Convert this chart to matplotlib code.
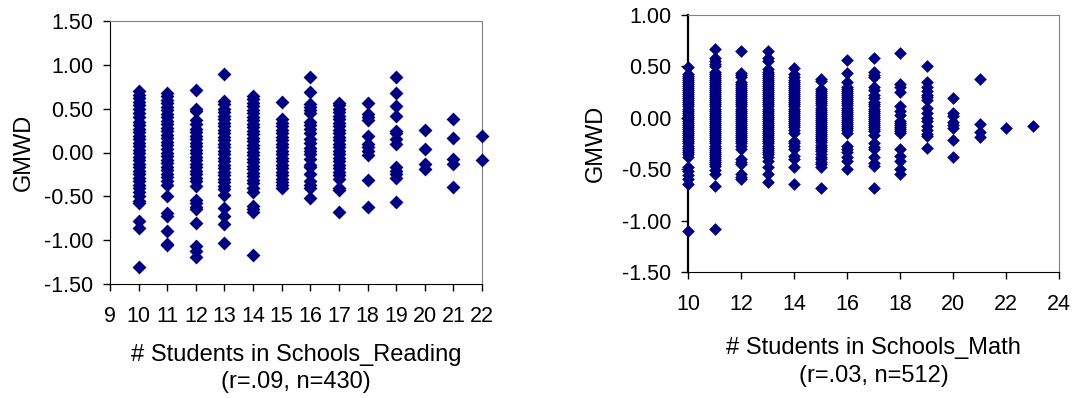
import matplotlib
matplotlib.use('Agg')
import matplotlib.pyplot as plt

plt.rcParams['font.family'] = ['Liberation Sans', 'DejaVu Sans']

# GMWD values per school size, reading
reading_10 = [0.70, 0.66, 0.62, 0.58, 0.54, 0.50, 0.45, 0.40, 0.35, 0.31, 0.27, 0.23, 0.19, 0.15,
              0.11, 0.07, 0.03, -0.01, -0.05, -0.09, -0.13, -0.17, -0.21, -0.25, -0.29, -0.33,
              -0.37, -0.41, -0.45, -0.50, -0.55, -0.58, -0.78, -0.86, -1.31]
reading_11 = [0.68, 0.64, 0.60, 0.56, 0.52, 0.48, 0.44, 0.40, 0.36, 0.32, 0.28, 0.24, 0.20, 0.16,
              0.12, 0.08, 0.04, 0.00, -0.04, -0.08, -0.12, -0.16, -0.20, -0.24, -0.28, -0.32,
              -0.37, -0.50, -0.69, -0.72, -0.90, -1.04, -1.06]
reading_12 = [0.71, 0.50, 0.47, 0.37, 0.33, 0.27, 0.23, 0.19, 0.15, 0.11, 0.07, 0.03, -0.01, -0.05,
              -0.09, -0.13, -0.17, -0.21, -0.25, -0.29, -0.33, -0.38, -0.54, -0.58, -0.62, -0.65,
              -0.80, -1.07, -1.12, -1.19]
reading_13 = [0.89, 0.59, 0.55, 0.50, 0.46, 0.42, 0.38, 0.34, 0.30, 0.26, 0.22, 0.18, 0.14, 0.10,
              0.06, 0.02, -0.02, -0.06, -0.10, -0.14, -0.18, -0.22, -0.26, -0.30, -0.34, -0.38,
              -0.42, -0.48, -0.63, -0.72, -0.82, -1.03]
reading_14 = [0.65, 0.61, 0.57, 0.53, 0.49, 0.45, 0.41, 0.37, 0.33, 0.29, 0.25, 0.21, 0.17, 0.13,
              0.09, 0.05, 0.01, -0.03, -0.07, -0.11, -0.15, -0.19, -0.23, -0.27, -0.31, -0.35,
              -0.40, -0.45, -0.61, -0.64, -0.68, -1.17]
reading_15 = [0.58, 0.38, 0.34, 0.30, 0.26, 0.22, 0.18, 0.14, 0.10, 0.06, 0.02, -0.02, -0.06, -0.10,
              -0.14, -0.18, -0.22, -0.26, -0.30, -0.34, -0.37, -0.40]
reading_16 = [0.86, 0.69, 0.55, 0.52, 0.49, 0.45, 0.35, 0.31, 0.27, 0.22, 0.15, 0.11, 0.05, 0.02,
              -0.02, -0.07, -0.14, -0.17, -0.24, -0.33, -0.37, -0.40, -0.52]
reading_17 = [0.57, 0.54, 0.50, 0.46, 0.42, 0.38, 0.34, 0.30, 0.26, 0.22, 0.18, 0.14, 0.10, 0.06,
              0.02, -0.02, -0.06, -0.10, -0.14, -0.18, -0.22, -0.26, -0.30, -0.40, -0.43, -0.68]
reading_18 = [0.56, 0.44, 0.40, 0.37, 0.19, 0.10, 0.06, 0.02, -0.03, -0.31, -0.62]
reading_19 = [0.86, 0.68, 0.53, 0.42, 0.25, 0.22, 0.15, 0.10, -0.17, -0.21, -0.25, -0.29, -0.57]
reading_20 = [0.26, 0.04, -0.13, -0.19]
reading_21 = [0.38, 0.16, -0.07, -0.13, -0.39]
reading_22 = [0.19, -0.09]

# GMWD values per school size, math
math_10 = [0.49, 0.43, 0.41, 0.39, 0.37, 0.35, 0.33, 0.31, 0.29, 0.27, 0.25, 0.23, 0.21, 0.19,
           0.17, 0.15, 0.13, 0.11, 0.09, 0.07, 0.05, 0.03, 0.01, -0.01, -0.03, -0.05, -0.07,
           -0.09, -0.11, -0.13, -0.15, -0.17, -0.19, -0.21, -0.23, -0.25, -0.27, -0.29, -0.31,
           -0.33, -0.35, -0.38, -0.48, -0.52, -0.56, -0.60, -0.64, -1.10]
math_11 = [0.67, 0.58, 0.55, 0.52, 0.50, 0.45, 0.43, 0.41, 0.39, 0.37, 0.35, 0.33, 0.31, 0.29,
           0.27, 0.25, 0.23, 0.21, 0.19, 0.17, 0.15, 0.13, 0.11, 0.09, 0.07, 0.05, 0.03, 0.01,
           -0.01, -0.03, -0.05, -0.07, -0.09, -0.11, -0.13, -0.15, -0.17, -0.19, -0.21, -0.23,
           -0.25, -0.27, -0.29, -0.31, -0.33, -0.35, -0.37, -0.39, -0.41, -0.43, -0.45, -0.47,
           -0.51, -0.55, -0.66, -1.08]
math_12 = [0.65, 0.44, 0.42, 0.40, 0.35, 0.33, 0.31, 0.29, 0.27, 0.25, 0.23, 0.21, 0.19, 0.17,
           0.15, 0.13, 0.11, 0.09, 0.07, 0.05, 0.03, 0.01, -0.01, -0.03, -0.05, -0.07, -0.09,
           -0.11, -0.13, -0.15, -0.17, -0.19, -0.21, -0.23, -0.25, -0.27, -0.30, -0.40, -0.43,
           -0.45, -0.55, -0.58, -0.60]
math_13 = [0.65, 0.58, 0.55, 0.47, 0.45, 0.43, 0.41, 0.39, 0.37, 0.35, 0.33, 0.31, 0.29, 0.27,
           0.25, 0.23, 0.21, 0.19, 0.17, 0.15, 0.13, 0.11, 0.09, 0.07, 0.05, 0.03, 0.01, -0.01,
           -0.03, -0.05, -0.07, -0.09, -0.11, -0.13, -0.15, -0.17, -0.19, -0.21, -0.23, -0.25,
           -0.27, -0.29, -0.31, -0.33, -0.35, -0.38, -0.42, -0.48, -0.55, -0.62]
math_14 = [0.48, 0.43, 0.40, 0.37, 0.35, 0.33, 0.31, 0.29, 0.27, 0.25, 0.23, 0.21, 0.19, 0.17,
           0.15, 0.13, 0.11, 0.09, 0.07, 0.05, 0.03, 0.01, -0.01, -0.03, -0.05, -0.07, -0.09,
           -0.12, -0.15, -0.23, -0.25, -0.27, -0.30, -0.37, -0.40, -0.48, -0.64]
math_15 = [0.38, 0.36, 0.28, 0.26, 0.24, 0.22, 0.20, 0.18, 0.16, 0.14, 0.12, 0.10, 0.08, 0.06,
           0.04, 0.02, 0.00, -0.02, -0.04, -0.06, -0.08, -0.10, -0.12, -0.14, -0.16, -0.18,
           -0.20, -0.22, -0.24, -0.26, -0.28, -0.30, -0.32, -0.35, -0.38, -0.40, -0.43, -0.45,
           -0.48, -0.68]
math_16 = [0.56, 0.44, 0.35, 0.30, 0.28, 0.26, 0.24, 0.22, 0.20, 0.18, 0.16, 0.14, 0.12, 0.10,
           0.08, 0.06, 0.04, 0.02, 0.00, -0.02, -0.04, -0.06, -0.08, -0.10, -0.12, -0.15, -0.27,
           -0.30, -0.33, -0.38, -0.42, -0.50]
math_17 = [0.58, 0.45, 0.42, 0.40, 0.30, 0.27, 0.22, 0.19, 0.15, 0.13, 0.11, 0.09, 0.07, 0.05,
           0.03, 0.01, -0.01, -0.03, -0.05, -0.07, -0.09, -0.11, -0.13, -0.17, -0.25, -0.28,
           -0.30, -0.38, -0.44, -0.47, -0.68]
math_18 = [0.63, 0.33, 0.30, 0.25, 0.11, 0.07, 0.03, -0.03, -0.05, -0.07, -0.09, -0.11, -0.13,
           -0.15, -0.30, -0.37, -0.42, -0.50, -0.55]
math_19 = [0.50, 0.35, 0.30, 0.26, 0.22, 0.20, 0.17, 0.10, 0.05, 0.00, -0.03, -0.08, -0.12,
           -0.16, -0.18, -0.29]
math_20 = [0.19, 0.05, 0.02, -0.04, -0.07, -0.10, -0.22, -0.38]
math_21 = [0.38, -0.06, -0.14, -0.19]
math_22 = [-0.10]
math_23 = [-0.08]

reading_cols = {10: reading_10, 11: reading_11, 12: reading_12, 13: reading_13, 14: reading_14,
                15: reading_15, 16: reading_16, 17: reading_17, 18: reading_18, 19: reading_19,
                20: reading_20, 21: reading_21, 22: reading_22}
math_cols = {10: math_10, 11: math_11, 12: math_12, 13: math_13, 14: math_14, 15: math_15,
             16: math_16, 17: math_17, 18: math_18, 19: math_19, 20: math_20, 21: math_21,
             22: math_22, 23: math_23}

NAVY = '#000080'
W, H = 1075, 398


def flatten(cols):
    xs, ys = [], []
    for x, vals in cols.items():
        xs += [x] * len(vals)
        ys += vals
    return xs, ys


def style_axes(ax, ylabel_pad):
    for side in ('top', 'right'):
        ax.spines[side].set_color('#808080')
    for side in ('left', 'bottom'):
        ax.spines[side].set_color('black')
    ax.tick_params(direction='out', length=5, width=1, labelsize=15.5, pad=7)
    ax.tick_params(axis='x', pad=11)
    ax.yaxis.set_major_formatter(matplotlib.ticker.FormatStrFormatter('%.2f'))
    ax.set_ylabel('GMWD', fontsize=17, labelpad=ylabel_pad)


fig = plt.figure(figsize=(W / 100, H / 100), dpi=100)

# left panel: reading
ax1 = fig.add_axes([110 / W, 1 - 284 / H, (482 - 110) / W, (284 - 21) / H])
xs, ys = flatten(reading_cols)
ax1.scatter(xs, ys, marker='D', s=50, color=NAVY, linewidths=0, clip_on=False, zorder=3)
ax1.set_xlim(9, 22)
ax1.set_ylim(-1.5, 1.5)
ax1.set_xticks(range(9, 23))
ax1.set_yticks([-1.5, -1.0, -0.5, 0.0, 0.5, 1.0, 1.5])
style_axes(ax1, 6.5)
ax1.set_xlabel('# Students in Schools_Reading\n(r=.09, n=430)', fontsize=17,
               labelpad=12, linespacing=1.3)

# right panel: math
ax2 = fig.add_axes([688 / W, 1 - 272 / H, (1059 - 688) / W, (272 - 15) / H])
xs, ys = flatten(math_cols)
ax2.scatter(xs, ys, marker='D', s=42, color=NAVY, linewidths=0, clip_on=False, zorder=3)
ax2.set_xlim(10, 24)
ax2.set_ylim(-1.5, 1.0)
ax2.set_xticks(range(10, 25, 2))
ax2.set_yticks([-1.5, -1.0, -0.5, 0.0, 0.5, 1.0])
style_axes(ax2, 11)
ax2.spines['left'].set_linewidth(1.6)
ax2.set_xlabel('# Students in Schools_Math\n(r=.03, n=512)', fontsize=17,
               labelpad=16, linespacing=1.3)

fig.savefig('out.png', dpi=100)
